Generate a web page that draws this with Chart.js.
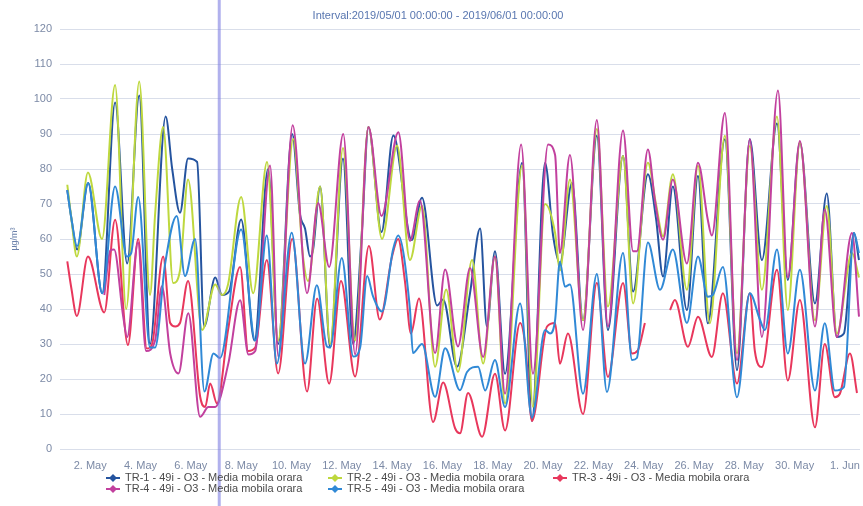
<!DOCTYPE html>
<html>
<head>
<meta charset="utf-8">
<script src="https://cdn.jsdelivr.net/npm/chart.js@4.4.1/dist/chart.umd.min.js"></script>
<style>
  html, body { margin: 0; padding: 0; background: #fff; }
</style>
</head>
<body>
<canvas id="o3Chart" width="863" height="506"></canvas>
<script>
const seriesNames = [
  "TR-1 - 49i - O3 - Media mobila orara",
  "TR-2 - 49i - O3 - Media mobila orara",
  "TR-3 - 49i - O3 - Media mobila orara",
  "TR-4 - 49i - O3 - Media mobila orara",
  "TR-5 - 49i - O3 - Media mobila orara"
];
const seriesColors = ["#25549f", "#bed83e", "#e8375c", "#c2409e", "#3089d6"];
const titleText = "Interval:2019/05/01 00:00:00 - 2019/06/01 00:00:00";

// x = day of May (1. Jun = 32), fractional
const tickDays = [2, 4, 6, 8, 10, 12, 14, 16, 18, 20, 22, 24, 26, 28, 30, 32];
const tickLabels = ["2. May", "4. May", "6. May", "8. May", "10. May", "12. May", "14. May", "16. May",
  "18. May", "20. May", "22. May", "24. May", "26. May", "28. May", "30. May", "1. Jun"];
const markerDay = 7.13;

const tr1 = [[1.09,74],[1.25,66],[1.48,57],[1.92,76],[2.48,44.5],[2.99,99],[3.47,53],[3.95,101],[4.38,30],[5.00,95],[5.26,80],[5.57,67.5],[5.89,83],[6.25,82],[6.53,35],[6.97,49],[7.24,44],[7.52,45],[8.00,65.6],[8.53,31],[9.07,80],[9.47,30],[10.03,90],[10.34,67],[10.54,63],[10.74,55],[10.86,57],[11.14,75],[11.54,29],[12.05,83],[12.45,30],[12.80,62],[13.06,92],[13.58,62],[14.05,89.6],[14.78,59.7],[15.19,71.8],[15.79,41],[16.03,42.7],[16.58,23.5],[17.10,44.6],[17.50,63],[17.77,35],[18.09,56.5],[18.49,21.5],[19.17,81.8],[19.56,8],[20.08,81.8],[20.40,61],[20.67,53],[21.15,76],[21.59,36.8],[22.14,89.5],[22.58,34],[23.18,83.7],[23.58,45],[24.17,78.5],[24.49,66],[24.77,49.3],[25.16,75],[25.72,39.7],[26.16,78],[26.55,35.9],[27.23,88.5],[27.71,22.5],[28.22,88.5],[28.70,54],[29.30,93],[29.73,48.3],[30.21,87.6],[30.81,41.6],[31.28,73],[31.68,32],[31.96,33],[32.36,61.7],[32.56,54]];

const tr2 = [[1.09,75.5],[1.25,66],[1.47,55],[1.91,79],[2.47,60],[2.99,104],[3.43,40],[3.95,105],[4.38,44],[4.58,67],[4.90,92],[5.30,47.4],[5.57,51],[5.89,77],[6.45,34],[6.97,47],[7.24,44],[7.48,47],[8.00,72],[8.48,44.5],[9.03,82],[9.47,31],[10.07,88.6],[10.46,55],[10.66,48],[11.14,75],[11.54,30],[12.05,86],[12.53,31],[13.06,92],[13.60,60],[14.20,86.7],[14.71,54],[15.19,69.5],[15.71,23.5],[16.15,45.6],[16.62,22],[17.18,54],[17.62,24.4],[18.09,55],[18.49,13],[19.17,81],[19.60,12],[20.08,70],[20.48,61.7],[20.67,51],[21.07,77],[21.59,36.8],[22.14,91.4],[22.58,40.7],[23.18,83.7],[23.58,41.6],[24.17,81.8],[24.49,70],[24.77,60.8],[25.16,78.5],[25.72,45.5],[26.16,80.9],[26.63,35.9],[27.23,89.5],[27.71,27.3],[28.22,86.6],[28.70,45.5],[29.30,95],[29.73,39.7],[30.21,87.6],[30.81,36.8],[31.28,69.4],[31.68,33],[32.28,56],[32.56,49]];

const tr3 = [[1.09,53.6],[1.25,46],[1.47,38],[1.91,55],[2.56,39],[2.99,65.5],[3.50,29.7],[3.91,60],[4.25,28.7],[4.46,30],[4.90,55],[5.18,36],[5.38,35],[5.57,36],[5.89,48],[6.37,15],[6.57,12],[6.77,18.7],[7.04,13],[7.48,34],[7.96,52],[8.28,28],[8.56,29],[9.02,54],[9.47,21.6],[10.03,60],[10.62,16.4],[11.02,43],[11.50,18.7],[11.97,48],[12.53,20.7],[13.08,58],[13.51,37],[14.00,55],[14.24,60],[14.51,48],[14.75,33],[15.07,43],[15.63,7.7],[16.03,19],[16.50,6],[16.70,4.5],[17.02,16],[17.58,3.5],[18.09,21.5],[18.49,5.3],[19.09,36],[19.29,30],[19.56,8],[20.16,35],[20.48,36],[20.67,24.4],[20.99,33],[21.59,10],[22.14,47.4],[22.58,20.6],[23.18,47.4],[23.54,27.3],[23.77,28.2],[24.05,36],[24.5,null],[25.05,39.7],[25.24,42.6],[25.76,29.2],[26.16,37.8],[26.71,26.3],[27.15,44.5],[27.71,18.7],[28.22,44.5],[28.42,28],[28.70,23.4],[29.30,51.2],[29.73,19.6],[30.21,42.6],[30.81,6.2],[31.20,30],[31.60,14.8],[31.80,15.8],[32.20,27.3],[32.48,16]];

const tr4 = [[2.56,44],[2.80,56.7],[2.95,57],[3.31,38],[3.47,32],[3.90,59],[4.22,28],[4.58,31],[4.85,46.5],[5.18,27.3],[5.51,21.6],[5.90,38.8],[6.37,9.2],[6.70,12],[6.97,12],[7.49,24.4],[7.96,42.5],[8.29,27],[8.56,28],[9.15,81],[9.48,26.4],[10.05,92.5],[10.62,44.5],[11.06,70.3],[11.50,52],[12.06,90],[12.53,27],[13.06,92],[13.58,66.6],[14.25,90.5],[14.71,59.5],[15.11,71],[15.71,27.4],[16.11,51.3],[16.62,29.3],[17.10,51.7],[17.62,26.3],[18.09,55],[18.49,15.8],[19.13,87],[19.60,21.5],[20.20,87],[20.48,84],[20.67,56],[21.07,84],[21.59,34],[22.14,94],[22.58,35],[23.18,91],[23.58,56.5],[23.73,56.5],[24.17,85.6],[24.45,71],[24.77,59.8],[25.16,77],[25.72,53],[26.16,81.8],[26.55,65.5],[26.71,61],[27.23,96],[27.71,25.4],[28.22,88.5],[28.70,32],[29.34,102.4],[29.73,49],[30.21,88],[30.81,35],[31.20,68.4],[31.68,32],[32.28,61.7],[32.56,37.8]];

const tr5 = [[1.09,74],[1.25,66],[1.48,58],[1.92,76],[2.48,44.5],[2.99,75],[3.46,55],[3.63,56],[3.91,72],[4.38,29],[4.58,29],[4.98,53],[5.44,66.6],[5.77,49.4],[6.17,60],[6.54,16.4],[6.90,27.3],[7.16,26],[8.00,62.7],[8.56,31],[9.02,61],[9.42,24.4],[10.01,61.8],[10.54,24.4],[11.01,46.8],[11.41,29.3],[11.54,29],[12.00,54.6],[12.46,26.4],[12.73,29],[13.01,49.4],[13.24,43.7],[13.60,39.3],[14.04,57],[14.24,61],[14.71,40],[14.83,27.4],[15.19,30],[15.71,14.9],[16.11,28.8],[16.70,16.8],[16.98,22],[17.42,23.5],[17.70,16.7],[18.09,25.4],[18.49,12],[19.09,41.6],[19.56,9],[20.08,34],[20.28,33],[20.48,36.8],[20.67,53.5],[20.87,46.4],[21.07,47],[21.59,15.8],[22.14,50],[22.54,16.3],[23.18,56],[23.54,25.4],[23.73,26],[24.17,59],[24.65,45.5],[25.16,57],[25.72,36],[26.16,55],[26.55,43.5],[26.75,44],[27.15,52],[27.71,14.8],[28.22,44.5],[28.62,37],[28.82,34],[29.30,57],[29.73,27.3],[30.21,51.2],[30.81,16.7],[31.20,35.9],[31.60,16.7],[31.96,17.7],[32.36,61.7],[32.56,56]];

const allSeries = [tr1, tr2, tr3, tr4, tr5];

const FONT = '"Liberation Sans", Arial, sans-serif';
const axisColor = "#7c8aa6";

// legend drawn like the original: short line + diamond, 3 columns
const legendCols = [106, 328, 553];
const legendRows = [478, 489];

const bottomLegend = {
  id: "bottomLegend",
  afterDraw(chart) {
    const ctx = chart.ctx;
    ctx.save();
    ctx.font = "11px " + FONT;
    ctx.textBaseline = "middle";
    seriesNames.forEach((name, i) => {
      const x = legendCols[i % 3];
      const y = legendRows[Math.floor(i / 3)];
      ctx.strokeStyle = seriesColors[i];
      ctx.lineWidth = 2;
      ctx.beginPath();
      ctx.moveTo(x, y);
      ctx.lineTo(x + 14, y);
      ctx.stroke();
      ctx.fillStyle = seriesColors[i];
      ctx.beginPath();
      ctx.moveTo(x + 7, y - 4);
      ctx.lineTo(x + 11, y);
      ctx.lineTo(x + 7, y + 4);
      ctx.lineTo(x + 3, y);
      ctx.closePath();
      ctx.fill();
      ctx.fillStyle = "#4a4a4a";
      ctx.fillText(name, x + 19, y);
    });
    ctx.restore();
  }
};

// header text + violet vertical marker across the whole picture
const extras = {
  id: "extras",
  afterDraw(chart) {
    const ctx = chart.ctx;
    ctx.save();
    ctx.font = "11px " + FONT;
    ctx.fillStyle = "#5876b0";
    ctx.textAlign = "center";
    ctx.textBaseline = "middle";
    ctx.fillText(titleText, 438, 16);

    const x = chart.scales.x.getPixelForValue(markerDay);
    ctx.strokeStyle = "rgba(125,125,225,0.6)";
    ctx.lineWidth = 3;
    ctx.beginPath();
    ctx.moveTo(x, 0);
    ctx.lineTo(x, chart.height);
    ctx.stroke();
    ctx.restore();
  }
};

const datasets = allSeries.map((pts, i) => ({
  label: seriesNames[i],
  data: pts.map(p => ({ x: p[0], y: p[1] })),
  borderColor: seriesColors[i],
  backgroundColor: seriesColors[i],
  borderWidth: 2,
  pointRadius: 0,
  cubicInterpolationMode: "monotone",
  spanGaps: false,
  order: 4 - i          // later series on top, as in the original
}));

new Chart(document.getElementById("o3Chart"), {
  type: "line",
  data: { datasets },
  options: {
    responsive: false,
    animation: false,
    layout: { padding: { top: 29, right: 3, left: 0, bottom: 0 } },
    plugins: {
      legend: { display: false },
      tooltip: { enabled: false }
    },
    scales: {
      x: {
        type: "linear",
        min: 0.8,
        max: 32.6,
        afterBuildTicks: s => { s.ticks = tickDays.map(v => ({ value: v })); },
        ticks: {
          autoSkip: false,
          maxRotation: 0,
          padding: 2,
          color: axisColor,
          font: { family: FONT, size: 11 },
          callback: v => tickLabels[tickDays.indexOf(v)]
        },
        grid: { display: false },
        border: { display: false },
        afterFit: s => { s.height = 57; }
      },
      y: {
        min: 0,
        max: 120,
        ticks: {
          stepSize: 10,
          padding: 8,
          color: axisColor,
          font: { family: FONT, size: 11 }
        },
        grid: { color: "#d9deea", drawTicks: false },
        border: { display: false },
        title: {
          display: true,
          text: "µg/m³",
          color: "#6a80aa",
          font: { family: FONT, size: 9 },
          padding: { top: 9, bottom: 0 }
        },
        afterFit: s => { s.width = 60; }
      }
    }
  },
  plugins: [extras, bottomLegend]
});
</script>
</body>
</html>
